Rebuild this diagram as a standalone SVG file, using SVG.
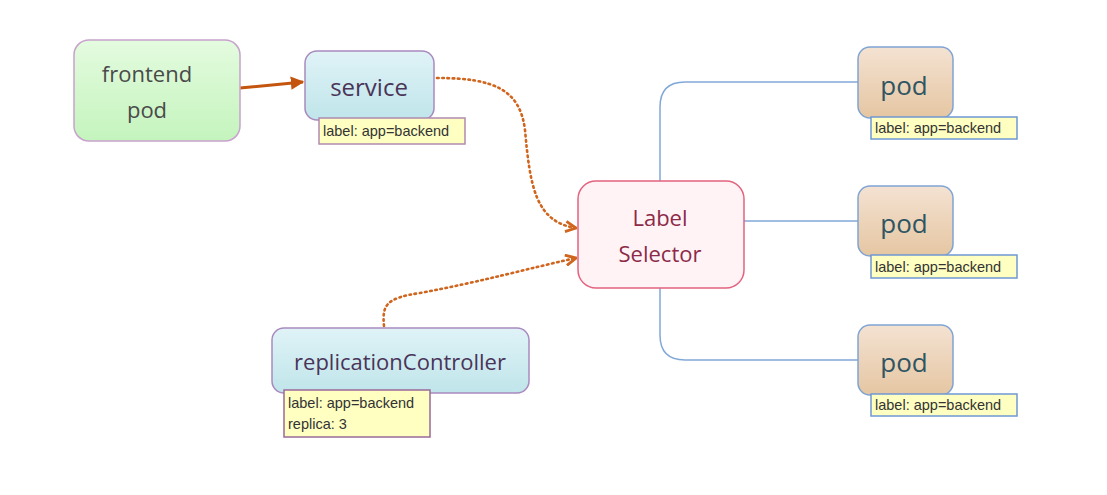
<svg xmlns="http://www.w3.org/2000/svg" width="1107" height="495" viewBox="0 0 1107 495">
<defs>
<linearGradient id="gGreen" x1="0" y1="0" x2="0" y2="1"><stop offset="0" stop-color="#e4fbdf"/><stop offset="1" stop-color="#c4f4bd"/></linearGradient>
<linearGradient id="gCyan" x1="0" y1="0" x2="0" y2="1"><stop offset="0" stop-color="#e0f3f7"/><stop offset="1" stop-color="#bfe5ea"/></linearGradient>
<linearGradient id="gTan" x1="0" y1="0" x2="0" y2="1"><stop offset="0" stop-color="#f4e2d2"/><stop offset="1" stop-color="#e5c6a2"/></linearGradient>
<marker id="solidHead" viewBox="0 0 10 10" refX="9" refY="5" markerWidth="4.5" markerHeight="4.5" orient="auto" markerUnits="strokeWidth"><path d="M0,0 L10,5 L0,10 z" fill="#c4550e"/></marker>
<marker id="openHead" viewBox="0 0 10 10" refX="9" refY="5" markerWidth="5" markerHeight="5" orient="auto" markerUnits="strokeWidth"><path d="M1,1 L9,5 L1,9" fill="none" stroke="#d0651e" stroke-width="2.2"/></marker>
</defs>
<style>
.main{font-family:"Open Sans","Noto Sans",sans-serif;text-anchor:middle}
.tag{font-family:"Liberation Sans",Arial,sans-serif;font-size:14.5px;fill:#333}
.tagbox{fill:#ffffc2}
.blue{fill:none;stroke:#82a8d8;stroke-width:1.5}
.dot{fill:none;stroke:#d0651e;stroke-width:2.6;stroke-dasharray:1.6 3.6;stroke-linecap:round}
</style>
<rect width="1107" height="495" fill="#ffffff"/>
<g id="connectors">
<path d="M240,88 L303,82" stroke="#c4550e" stroke-width="3" fill="none" marker-end="url(#solidHead)"/>
<path class="dot" d="M437,78 C495,78 520,90 525,130 C530,185 535,222 576,228" marker-end="url(#openHead)"/>
<path class="dot" d="M384,326 C382,305 386,298 420,293 C480,282 530,268 576,258" marker-end="url(#openHead)"/>
<path class="blue" d="M660,181 L660,107 Q660,82 685,82 L858,82"/>
<path class="blue" d="M744,221 L858,221"/>
<path class="blue" d="M660,288 L660,335 Q660,360 685,360 L858,360"/>
</g>
<g id="frontend">
<rect x="74" y="40" width="166" height="101" rx="15" fill="url(#gGreen)" stroke="#c8a2cc" stroke-width="1.5"/>
<text class="main" x="147" y="82" font-size="22" fill="#4a4a4a">frontend</text>
<text class="main" x="147" y="118" font-size="22" fill="#4a4a4a">pod</text>
</g>
<g id="service">
<rect x="305" y="51" width="129" height="69" rx="12" fill="url(#gCyan)" stroke="#a98abf" stroke-width="1.5"/>
<text class="main" x="369" y="96" font-size="24" fill="#4a3458">service</text>
<rect class="tagbox" x="319" y="118" width="146" height="26" stroke="#b08ab0" stroke-width="1.5"/>
<text class="tag" x="323" y="136">label: app=backend</text>
</g>
<g id="selector">
<rect x="578" y="181" width="166" height="107" rx="18" fill="#fff3f6" stroke="#e4637f" stroke-width="1.5"/>
<text class="main" x="660" y="226" font-size="22" fill="#8c2a48">Label</text>
<text class="main" x="660" y="262" font-size="22" fill="#8c2a48">Selector</text>
</g>
<g id="rc">
<rect x="272" y="328" width="257" height="65" rx="12" fill="url(#gCyan)" stroke="#a98abf" stroke-width="1.5"/>
<text class="main" x="400" y="370" font-size="22" fill="#4a3458">replicationController</text>
<rect class="tagbox" x="284" y="390" width="146" height="47" stroke="#9a6a9a" stroke-width="1.5"/>
<text class="tag" x="288" y="408">label: app=backend</text>
<text class="tag" x="288" y="429">replica: 3</text>
</g>
<g id="pod1">
<rect x="858" y="47" width="95" height="71" rx="12" fill="url(#gTan)" stroke="#7fa4d4" stroke-width="1.5"/>
<text class="main" x="904" y="95" font-size="26" fill="#2f5562">pod</text>
<rect class="tagbox" x="871" y="117" width="146" height="22" stroke="#6f98d4" stroke-width="1.5"/>
<text class="tag" x="875" y="133">label: app=backend</text>
</g>
<g id="pod2">
<rect x="858" y="186" width="95" height="70" rx="12" fill="url(#gTan)" stroke="#7fa4d4" stroke-width="1.5"/>
<text class="main" x="904" y="233" font-size="26" fill="#2f5562">pod</text>
<rect class="tagbox" x="871" y="255" width="146" height="23" stroke="#6f98d4" stroke-width="1.5"/>
<text class="tag" x="875" y="272">label: app=backend</text>
</g>
<g id="pod3">
<rect x="858" y="325" width="95" height="70" rx="12" fill="url(#gTan)" stroke="#7fa4d4" stroke-width="1.5"/>
<text class="main" x="904" y="372" font-size="26" fill="#2f5562">pod</text>
<rect class="tagbox" x="871" y="394" width="146" height="22" stroke="#6f98d4" stroke-width="1.5"/>
<text class="tag" x="875" y="410">label: app=backend</text>
</g>
</svg>
